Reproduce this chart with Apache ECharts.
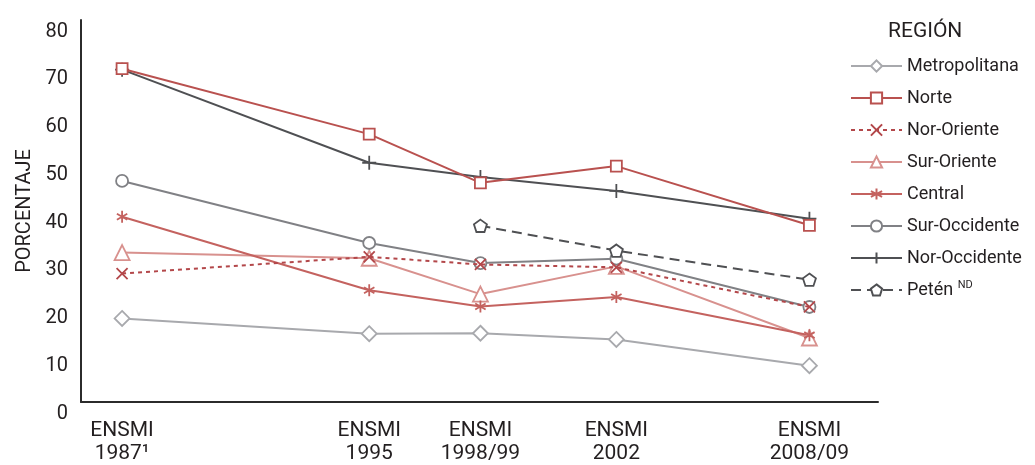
<!DOCTYPE html>
<html>
<head>
<meta charset="utf-8">
<script src="https://cdn.jsdelivr.net/npm/echarts@6/dist/echarts.min.js"></script>
<style>
html,body{margin:0;padding:0;background:#fff;}
#chart{width:1035px;height:465px;}
</style>
</head>
<body>
<div id="chart"></div>
<script>
// Survey labels and their positions on the time line (fractional years)
var surveys = ['ENSMI\n1987\u00B9', 'ENSMI\n1995', 'ENSMI\n1998/99', 'ENSMI\n2002', 'ENSMI\n2008/09'];
var surveyTime = [1987, 1995, 1998.6, 2003.0, 2009.25];

var metropolitana = [17.5, 14.3, 14.4, 13.1, 7.6];
var norte        = [69.8, 56.1, 45.9, 49.4, 37.0];
var norOriente   = [26.9, 30.4, 28.8, 28.2, 19.9];
var surOriente   = [31.3, 30.1, 22.6, 28.4, 13.4];
var central      = [38.8, 23.4, 20.0, 22.0, 14.0];
var surOccidente = [46.3, 33.3, 29.1, 30.0, 19.9];
var norOccidente = [69.6, 50.1, 47.1, 44.2, 38.4];
var peten        = [null, null, 36.9, 31.7, 25.6];

var yTicks = [0, 10, 20, 30, 40, 50, 60, 70, 80];

function pairs(arr) {
  var out = [];
  for (var i = 0; i < arr.length; i++) {
    if (arr[i] !== null) out.push([surveyTime[i], arr[i]]);
  }
  return out;
}

var P_PLUS = 'path://M0,-1L0,1M-1,0L1,0';
var P_X = 'path://M-1,-1L1,1M-1,1L1,-1';
var P_AST = 'path://M0,-1L0,1M-0.866,-0.5L0.866,0.5M-0.866,0.5L0.866,-0.5';
var P_PENT = 'path://M0,-1L0.951,-0.309L0.588,0.809L-0.588,0.809L-0.951,-0.309Z';

function mk(name, data, color, symbol, size, opts) {
  opts = opts || {};
  return {
    name: name,
    type: 'line',
    data: pairs(data),
    symbol: symbol,
    symbolSize: size,
    symbolKeepAspect: true,
    showAllSymbol: true,
    z: opts.z || 2,
    lineStyle: { color: color, width: 2, type: opts.dash || 'solid' },
    itemStyle: { color: opts.fill || '#ffffff', borderColor: color, borderWidth: 1.8 },
    emphasis: { disabled: true },
    animation: false
  };
}

var chart = echarts.init(document.getElementById('chart'), null, { renderer: 'canvas' });
var txt = '#231f20';
var font = 'Roboto, "Liberation Sans", sans-serif';

chart.setOption({
  backgroundColor: '#ffffff',
  animation: false,
  title: {
    text: 'REGIÓN',
    left: 883, top: 16,
    textStyle: { fontFamily: font, fontSize: 21, fontWeight: 'normal', color: txt }
  },
  legend: {
    orient: 'vertical',
    left: 845, top: 51,
    itemWidth: 51, itemHeight: 14,
    itemGap: 12,
    selectedMode: false,
    textStyle: {
      fontFamily: font, fontSize: 18, color: txt, lineHeight: 20,
      rich: { sup: { fontFamily: font, fontSize: 11, color: txt, verticalAlign: 'top', lineHeight: 12, padding: [0, 0, 10, 0] } }
    },
    formatter: function (n) { return n === 'Petén' ? 'Petén {sup|ND}' : n; },
    data: ['Metropolitana', 'Norte', 'Nor-Oriente', 'Sur-Oriente', 'Central', 'Sur-Occidente', 'Nor-Occidente', 'Petén']
  },
  grid: { left: 81, right: 157, top: 20, bottom: 59, containLabel: false },
  xAxis: {
    type: 'value',
    min: 1985.67, max: 2011.47,
    axisLine: { show: true, onZero: false, lineStyle: { color: '#2b2b2b', width: 2 } },
    axisTick: { show: false },
    splitLine: { show: false },
    axisLabel: {
      customValues: surveyTime,
      showMinLabel: true, showMaxLabel: true,
      formatter: function (v) {
        for (var i = 0; i < surveyTime.length; i++) if (Math.abs(surveyTime[i] - v) < 1e-6) return surveys[i];
        return '';
      },
      margin: 17,
      fontFamily: font, fontSize: 21, lineHeight: 23, color: txt, align: 'center'
    }
  },
  yAxis: {
    type: 'value',
    min: 0, max: 80, interval: 10,
    name: 'PORCENTAJE',
    nameLocation: 'middle',
    nameGap: 46,
    nameRotate: 90,
    nameTextStyle: { fontFamily: font, fontSize: 20, color: txt },
    axisLine: { show: true, lineStyle: { color: '#2b2b2b', width: 2 } },
    axisTick: { show: false },
    splitLine: { show: false },
    axisLabel: {
      margin: 13,
      fontFamily: font, fontSize: 20, color: txt,
      verticalAlign: 'top',
      lineHeight: 23,
      formatter: function (v) { return yTicks.indexOf(v) >= 0 ? String(v) : ''; }
    }
  },
  series: [
    mk('Metropolitana', metropolitana, '#a8a9ad', 'diamond', 15),
    mk('Norte', norte, '#b9514f', 'rect', 11, { z: 4 }),
    mk('Nor-Oriente', norOriente, '#b3474a', P_X, 11, { dash: [4, 4], z: 3 }),
    mk('Sur-Oriente', surOriente, '#d8918e', 'triangle', 15),
    mk('Central', central, '#c4625f', P_AST, 12),
    mk('Sur-Occidente', surOccidente, '#808185', 'circle', 12),
    mk('Nor-Occidente', norOccidente, '#4f5053', P_PLUS, 14, { z: 3 }),
    mk('Petén', peten, '#4f5053', P_PENT, 13, { dash: [10, 6] })
  ]
});
</script>
</body>
</html>
